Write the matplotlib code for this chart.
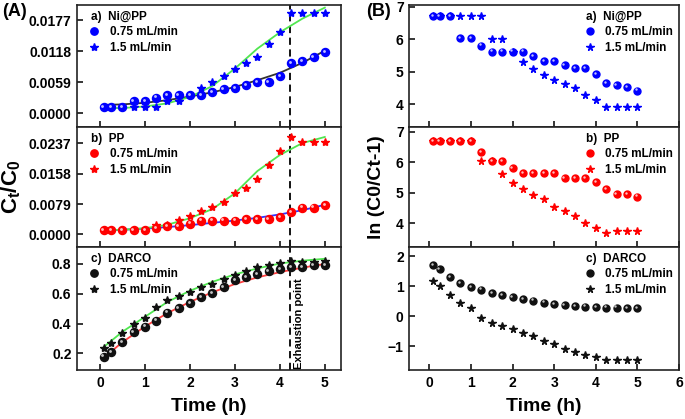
import matplotlib
matplotlib.use('Agg')
import matplotlib.pyplot as plt
from matplotlib.lines import Line2D
from matplotlib.transforms import offset_copy
from matplotlib.ticker import FormatStrFormatter

plt.rcParams['font.family'] = 'Liberation Sans'
plt.rcParams['font.weight'] = 'bold'
plt.rcParams['mathtext.fontset'] = 'custom'
plt.rcParams['mathtext.rm'] = 'Liberation Sans:bold'
plt.rcParams['mathtext.it'] = 'Liberation Sans:bold'
plt.rcParams['mathtext.bf'] = 'Liberation Sans:bold'

# sampling times (h)
time = [0.083, 0.25, 0.5, 0.75, 1.0, 1.25, 1.5, 1.75, 2.0, 2.25, 2.5,
        2.75, 3.0, 3.25, 3.5, 3.75, 4.0, 4.25, 4.5, 4.75, 5.0]
fit_time = [0.083, 0.5, 1.0, 1.5, 2.0, 2.5, 3.0, 3.5, 4.0, 4.5, 5.0]

# (A) breakthrough curves Ct/C0
nipp_slow = [0.00114, 0.00114, 0.00114, 0.0024, 0.0024, 0.0030, 0.0035, 0.0035,
             0.0035, 0.0035, 0.0040, 0.0046, 0.0048, 0.0053, 0.0059, 0.0059,
             0.0071, 0.0095, 0.0100, 0.0107, 0.0117]
nipp_fast = [0.00114, 0.00114, 0.00114, 0.00114, 0.00114, 0.00114, 0.0024, 0.0024,
             0.0035, 0.0048, 0.0060, 0.0071, 0.0084, 0.0096, 0.0107, 0.0131,
             0.0154, 0.0190, 0.0190, 0.0190, 0.0190]
nipp_slow_fit = [0.0016, 0.0017, 0.0020, 0.0025, 0.0032, 0.0040, 0.0050,
                 0.0063, 0.0077, 0.0096, 0.0119]
nipp_fast_fit = [0.0010, 0.0010, 0.0013, 0.0019, 0.0031, 0.0052, 0.0085,
                 0.0123, 0.0154, 0.0180, 0.0201]

pp_slow = [0.00113, 0.00113, 0.00113, 0.00113, 0.00113, 0.00156, 0.00217, 0.00217,
           0.0028, 0.0036, 0.0036, 0.0036, 0.0036, 0.0039, 0.0039, 0.0040,
           0.0045, 0.0058, 0.0070, 0.0070, 0.0076]
pp_fast = [0.00113, 0.00113, 0.00113, 0.00113, 0.00113, 0.0024, 0.0024, 0.0037,
           0.0048, 0.0061, 0.0072, 0.0084, 0.0108, 0.0120, 0.0144, 0.0181,
           0.0217, 0.0253, 0.0241, 0.0241, 0.0241]
pp_slow_fit = [0.0010, 0.0012, 0.0015, 0.0019, 0.0024, 0.0030, 0.0036,
               0.0043, 0.0052, 0.0063, 0.0077]
pp_fast_fit = [0.0011, 0.0012, 0.0016, 0.0025, 0.0042, 0.0066, 0.0107,
               0.0165, 0.0207, 0.0238, 0.0254]

darco_slow = [0.178, 0.21, 0.274, 0.34, 0.38, 0.42, 0.474, 0.503, 0.536, 0.576,
              0.607, 0.643, 0.69, 0.71, 0.73, 0.75, 0.766, 0.78, 0.78, 0.79, 0.79]
darco_fast = [0.238, 0.272, 0.334, 0.40, 0.44, 0.514, 0.558, 0.587, 0.61, 0.643,
              0.666, 0.70, 0.726, 0.755, 0.778, 0.79, 0.805, 0.823, 0.816, 0.816, 0.823]
darco_slow_fit = [0.17, 0.275, 0.38, 0.47, 0.545, 0.61, 0.665, 0.71, 0.745,
                  0.775, 0.80]
darco_fast_fit = [0.242, 0.345, 0.445, 0.545, 0.62, 0.68, 0.73, 0.77, 0.803,
                  0.822, 0.835]

# (B) ln(C0/Ct - 1)
ln_nipp_slow = [6.71, 6.71, 6.71, 6.03, 6.03, 5.80, 5.62, 5.62, 5.62, 5.62, 5.47,
                5.33, 5.33, 5.21, 5.11, 5.11, 4.93, 4.65, 4.58, 4.52, 4.42]
ln_nipp_fast = [6.71, 6.71, 6.71, 6.71, 6.71, 6.71, 6.01, 6.01, 5.62, 5.31, 5.09,
                4.90, 4.75, 4.62, 4.49, 4.29, 4.13, 3.91, 3.91, 3.91, 3.91]
ln_pp_slow = [6.70, 6.70, 6.70, 6.70, 6.70, 6.32, 6.03, 6.03, 5.81, 5.64, 5.64,
              5.64, 5.64, 5.48, 5.48, 5.48, 5.34, 5.12, 4.95, 4.95, 4.87]
ln_pp_fast = [6.70, 6.70, 6.70, 6.70, 6.70, 6.03, 6.03, 5.62, 5.33, 5.11, 4.92,
              4.78, 4.52, 4.41, 4.24, 4.02, 3.84, 3.67, 3.73, 3.73, 3.73]
ln_darco_slow = [1.70, 1.56, 1.30, 1.09, 0.96, 0.88, 0.76, 0.70, 0.63, 0.56, 0.51,
                 0.45, 0.39, 0.37, 0.34, 0.31, 0.29, 0.28, 0.28, 0.27, 0.26]
ln_darco_fast = [1.16, 1.00, 0.71, 0.43, 0.26, -0.06, -0.22, -0.34, -0.44, -0.55,
                 -0.67, -0.83, -0.92, -1.09, -1.20, -1.29, -1.37, -1.46, -1.46,
                 -1.46, -1.46]

materials = ['a)  Ni@PP', 'b)  PP', 'c)  DARCO']
flow_labels = ['0.75 mL/min', '1.5 mL/min']
colors = ['#0000ff', '#ff0000', '#111111']
exhaustion = 4.22

W, H = 685, 419
fig = plt.figure(figsize=(W / 100, H / 100), dpi=100)

tops = [5, 127, 247]
bots = [127, 247, 370]


def make_axes(x0, x1):
    axes = []
    for t, b in zip(tops, bots):
        ax = fig.add_axes([x0 / W, (H - b) / H, (x1 - x0) / W, (b - t) / H])
        for s in ax.spines.values():
            s.set_linewidth(1.2)
            s.set_color('#222222')
        ax.tick_params(direction='in', length=4, width=1.1, labelsize=10,
                       top=False, right=False, pad=4)
        axes.append(ax)
    return axes


def balls(ax, x, y, c, ms):
    ax.plot(x, y, 'o', color=c, mec=c, ms=ms, zorder=3)
    hl = offset_copy(ax.transData, fig=fig, x=-1.2, y=1.2, units='dots')
    ax.plot(x, y, 'o', color='white', alpha=0.75, ms=ms * 0.35, mew=0,
            transform=hl, zorder=4)


def add_legend(ax, title, c, loc, anchor, ms_o, ms_s):
    h = [Line2D([], [], ls='', marker='o', color=c, ms=ms_o),
         Line2D([], [], ls='', marker='*', color=c, ms=ms_s)]
    leg = ax.legend(h, flow_labels, title=title, loc=loc, bbox_to_anchor=anchor,
                    frameon=False, handlelength=0.6, handletextpad=1.0,
                    labelspacing=0.3, borderpad=0.2, borderaxespad=0.3,
                    prop={'size': 8.5, 'weight': 'bold'},
                    title_fontproperties={'size': 8.5, 'weight': 'bold'},
                    alignment='left')
    return leg


# ---------------- (A) ----------------
axA = make_axes(77, 341)
A_slow = [nipp_slow, pp_slow, darco_slow]
A_fast = [nipp_fast, pp_fast, darco_fast]
A_slow_fit = [nipp_slow_fit, pp_slow_fit, darco_slow_fit]
A_fast_fit = [nipp_fast_fit, pp_fast_fit, darco_fast_fit]
slow_line_colors = ['#333333', '#3333ff', '#ff4040']
fast_line_color = '#50e650'
A_ylims = [(-0.0026, 0.0206), (-0.0033, 0.0280), (0.088, 0.914)]
A_yticks = [[0.0, 0.0059, 0.0118, 0.0177], [0.0, 0.0079, 0.0158, 0.0237],
            [0.2, 0.4, 0.6, 0.8]]
A_fmt = ['%.4f', '%.4f', '%.1f']

for i, ax in enumerate(axA):
    c = colors[i]
    ax.plot(fit_time, A_slow_fit[i], color=slow_line_colors[i], lw=1.3, zorder=2)
    ax.plot(fit_time, A_fast_fit[i], color=fast_line_color, lw=1.3, zorder=2)
    ax.plot(time, A_fast[i], '*', color=c, ms=6, zorder=3)
    balls(ax, time, A_slow[i], c, 5.8)
    ax.axvline(exhaustion, color='black', ls=(0, (4, 2.5)), lw=1.3, zorder=1)
    ax.set_xlim(-0.51, 5.36)
    ax.set_ylim(*A_ylims[i])
    ax.set_yticks(A_yticks[i])
    ax.yaxis.set_major_formatter(FormatStrFormatter(A_fmt[i]))
    ax.set_xticks(range(0, 6))
    if i < 2:
        ax.tick_params(labelbottom=False)
    add_legend(ax, materials[i], c, 'upper left', (0.03, 1.0), 5.3, 6)

axA[2].text(4.42, 0.005, 'Exhaustion point', rotation=90, ha='center',
            va='bottom', fontsize=8, fontweight='bold',
            transform=axA[2].get_xaxis_transform())
axA[2].set_xlabel('Time (h)', fontsize=14, fontweight='bold', labelpad=6)
axA[1].set_ylabel(r'$C_t/C_0$', fontsize=16, labelpad=4)
fig.text(2 / W, (H - 12) / H, '(A)', fontsize=13, fontweight='bold', va='center')

# ---------------- (B) ----------------
axB = make_axes(409.3, 679)
B_slow = [ln_nipp_slow, ln_pp_slow, ln_darco_slow]
B_fast = [ln_nipp_fast, ln_pp_fast, ln_darco_fast]
B_ylims = [(3.3, 7.05), (3.22, 7.15), (-1.8, 2.3)]
B_yticks = [[4, 5, 6, 7], [4, 5, 6, 7], [-1, 0, 1, 2]]

for i, ax in enumerate(axB):
    c = colors[i]
    ax.plot(time, B_fast[i], '*', color=c, ms=5.3, zorder=3)
    balls(ax, time, B_slow[i], c, 5)
    ax.set_xlim(-0.48, 6.0)
    ax.set_ylim(*B_ylims[i])
    ax.set_yticks(B_yticks[i])
    ax.set_xticks(range(0, 7))
    if i < 2:
        ax.tick_params(labelbottom=False)
    add_legend(ax, materials[i], c, 'upper right', (1.0, 1.0), 5, 5.5)

axB[2].set_xlabel('Time (h)', fontsize=14, fontweight='bold', labelpad=6)
axB[1].set_ylabel('ln (C0/Ct-1)', fontsize=14, fontweight='bold', labelpad=8)
fig.text(366 / W, (H - 12) / H, '(B)', fontsize=13, fontweight='bold', va='center')

fig.savefig('out.png', dpi=100)
